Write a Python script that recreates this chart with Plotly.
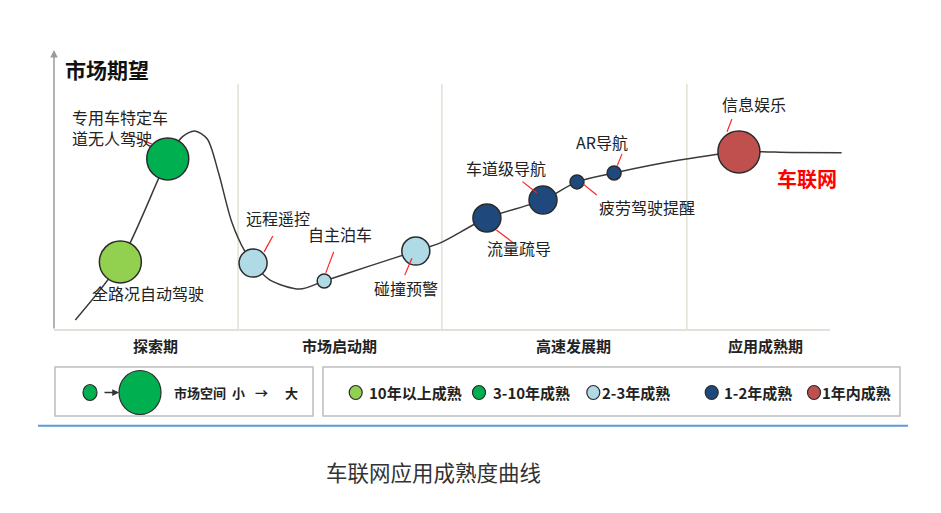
import plotly.graph_objects as go

W, H = 941, 513
PAGE_PAD = 8  # browser body margin around the figure
FONT = "Noto Sans CJK SC"

# hype-style curve (x: maturity 0-100, y: market expectation 0-100)
curve_x = [2.7, 8.4, 14.4, 16.2, 17.8, 19.4, 20.8, 22.5, 24.2, 25.2, 27.3, 31.1, 34.2,
           40.0, 45.8, 48.9, 54.8, 61.9, 66.2, 70.9, 79.2, 86.7, 93.2, 99.7]
curve_y = [3.6, 24.3, 61.1, 68.9, 71.1, 68.2, 56.4, 38.6, 27.9, 23.9, 17.9, 14.6, 17.5,
           22.9, 28.2, 31.1, 40.0, 46.4, 52.9, 56.1, 60.7, 63.6, 63.4, 63.3]

tech_names = ["全路况自动驾驶", "专用车特定车道无人驾驶", "远程遥控", "自主泊车", "碰撞预警",
              "流量疏导", "车道级导航", "疲劳驾驶提醒", "AR导航", "信息娱乐"]
tech_x = [8.4, 14.4, 25.2, 34.2, 45.8, 54.8, 61.9, 66.2, 70.9, 86.7]
tech_y = [24.3, 61.1, 23.9, 17.5, 28.2, 40.0, 46.4, 52.9, 56.1, 63.6]
tech_market = [3, 3, 2, 1, 2, 2, 2, 1, 1, 3]  # market size: 1 small .. 3 large
tech_stage = [0, 1, 2, 2, 2, 3, 3, 3, 3, 4]

stage_labels = ["10年以上成熟", "3-10年成熟", "2-3年成熟", "1-2年成熟", "1年内成熟"]
stage_colors = ["#92D050", "#00B050", "#B0DAE6", "#1F497D", "#C0504D"]

phase_names = ["探索期", "市场启动期", "高速发展期", "应用成熟期"]
phase_bounds = [23.3, 49.1, 80.1]

# label placement: text x, y, anchor, leader line (x0, y0, x1, y1) or None
label_layout = [
    (11.9, 13.2, "center", None),
    (2.0, 72.5, "left", (9.4, 70.0, 12.4, 66.4)),
    (28.4, 40.0, "center", (27.7, 33.6, 26.6, 27.9)),
    (36.2, 34.2, "center", (35.4, 27.9, 34.4, 20.4)),
    (44.6, 14.9, "center", (45.3, 25.6, 44.4, 19.6)),
    (58.9, 29.2, "center", (56.0, 35.7, 58.1, 31.2)),
    (57.2, 57.8, "center", (59.3, 53.0, 61.1, 49.0)),
    (75.1, 44.0, "center", (67.0, 52.1, 68.7, 48.2)),
    (69.4, 67.0, "center", (71.9, 62.9, 71.3, 58.7)),
    (88.6, 80.7, "center", (85.8, 75.3, 85.2, 70.8)),
]
phase_label_x = [12.9, 36.2, 65.7, 90.1]

# legend placement in page pixels
legend_dot_x = [355.7, 479, 593.3, 711.7, 814]
legend_text_x = [366.5, 490.5, 600, 721.5, 819.5]
LEG_Y = 392.5


def px(x):
    return (x - PAGE_PAD) / W


def py(y):
    return 1 - (y - PAGE_PAD) / H


fig = go.Figure()

fig.add_trace(go.Scatter(
    x=curve_x, y=curve_y, mode="lines",
    line=dict(color="#3a3a3a", width=1.5, shape="spline", smoothing=0.8),
    hoverinfo="skip",
))

fig.add_trace(go.Scatter(
    x=tech_x, y=tech_y, mode="markers",
    marker=dict(
        size=[14 * m for m in tech_market],
        color=[stage_colors[s] for s in tech_stage],
        line=dict(color="#2b2b2b", width=1.5),
        opacity=1,
    ),
    text=tech_names, hoverinfo="text",
))

shapes = []
annotations = []

# axes
shapes.append(dict(type="line", xref="x", yref="y", x0=0, x1=98.2, y0=0, y1=0,
                   line=dict(color="#D9D6CC", width=1.5), layer="below"))
annotations.append(dict(x=0, y=100, ax=0, ay=0, axref="x", ayref="y", xref="x", yref="y",
                        text="", showarrow=True, arrowhead=2, arrowsize=1, arrowwidth=1.5,
                        arrowcolor="#9a9a9a"))
for b in phase_bounds:
    shapes.append(dict(type="line", xref="x", yref="y", x0=b, x1=b, y0=0, y1=87.9,
                       line=dict(color="#E3E0D4", width=1.5), layer="below"))

annotations.append(dict(x=6.7, y=93.2, xref="x", yref="y", text="<b>市场期望</b>",
                        showarrow=False, font=dict(family=FONT, size=21, color="#111")))

for name, lx in zip(phase_names, phase_label_x):
    annotations.append(dict(x=lx, y=-5.4, xref="x", yref="y", text=f"<b>{name}</b>",
                            showarrow=False, font=dict(family=FONT, size=15, color="#222")))

for name, (lx, ly, anchor, leader) in zip(tech_names, label_layout):
    text = "专用车特定车<br>道无人驾驶" if name == "专用车特定车道无人驾驶" else name
    annotations.append(dict(x=lx, y=ly, xref="x", yref="y", text=text, showarrow=False,
                            xanchor=anchor, align="left",
                            font=dict(family=FONT, size=16, color="#222")))
    if leader:
        shapes.append(dict(type="line", xref="x", yref="y", x0=leader[0], y0=leader[1],
                           x1=leader[2], y1=leader[3], line=dict(color="#FF2020", width=1.2)))

annotations.append(dict(x=95.3, y=54.2, xref="x", yref="y", text="<b>车联网</b>",
                        showarrow=False, font=dict(family=FONT, size=20, color="#FF0000")))

# legend boxes
for x0, x1 in [(55, 313), (323, 900)]:
    shapes.append(dict(type="rect", xref="paper", yref="paper", x0=px(x0), x1=px(x1),
                       y0=py(416), y1=py(367), line=dict(color="#BDBDBD", width=1.5)))

# market size legend
for cx, r in [(90, 7), (140, 21)]:
    shapes.append(dict(type="circle", xref="paper", yref="paper", xsizemode="pixel",
                       ysizemode="pixel", xanchor=px(cx), yanchor=py(LEG_Y),
                       x0=-r, x1=r, y0=-r - 1, y1=r + 1,
                       fillcolor=stage_colors[1], line=dict(color="#2b2b2b", width=1.2)))
annotations.append(dict(x=px(119), y=py(LEG_Y), xref="paper", yref="paper", ax=-16, ay=0,
                        text="", showarrow=True, arrowhead=2, arrowsize=0.9, arrowwidth=1.5,
                        arrowcolor="#333"))
for txt, tx, anchor in [("市场空间", 171.5, "left"), ("小", 238, "center"),
                        ("→", 262, "center"), ("大", 291, "center")]:
    annotations.append(dict(x=px(tx), y=py(LEG_Y), xref="paper", yref="paper",
                            xanchor=anchor, yanchor="middle",
                            text=f"<b>{txt}</b>", showarrow=False,
                            font=dict(family=FONT, size=13, color="#222")))

# maturity legend
for label, color, dx, tx in zip(stage_labels, stage_colors, legend_dot_x, legend_text_x):
    shapes.append(dict(type="circle", xref="paper", yref="paper", xsizemode="pixel",
                       ysizemode="pixel", xanchor=px(dx), yanchor=py(LEG_Y),
                       x0=-6.5, x1=6.5, y0=-7, y1=7,
                       fillcolor=color, line=dict(color="#2b2b2b", width=1.2)))
    annotations.append(dict(x=px(tx), y=py(LEG_Y), xref="paper", yref="paper",
                            xanchor="left", yanchor="middle", text=f"<b>{label}</b>",
                            showarrow=False, font=dict(family=FONT, size=15, color="#222")))

# separator and caption
shapes.append(dict(type="line", xref="paper", yref="paper", x0=px(38), x1=px(908),
                   y0=py(425.7), y1=py(425.7), line=dict(color="#5B9BD5", width=2)))
annotations.append(dict(x=px(433), y=py(471.5), xref="paper", yref="paper",
                        xanchor="center", yanchor="middle",
                        text="车联网应用成熟度曲线", showarrow=False,
                        font=dict(family=FONT, size=21.5, color="#333")))

fig.update_layout(
    width=W, height=H,
    margin=dict(l=0, r=0, t=0, b=0),
    paper_bgcolor="white", plot_bgcolor="white",
    showlegend=False,
    xaxis=dict(domain=[px(54), px(844)], range=[0, 100], visible=False, fixedrange=True),
    # y range reaches below the baseline so the phase names stay on the axis
    yaxis=dict(domain=[py(352.4), py(50)], range=[-8, 100], visible=False, fixedrange=True),
    shapes=shapes, annotations=annotations,
)

fig.write_html("out.html")
